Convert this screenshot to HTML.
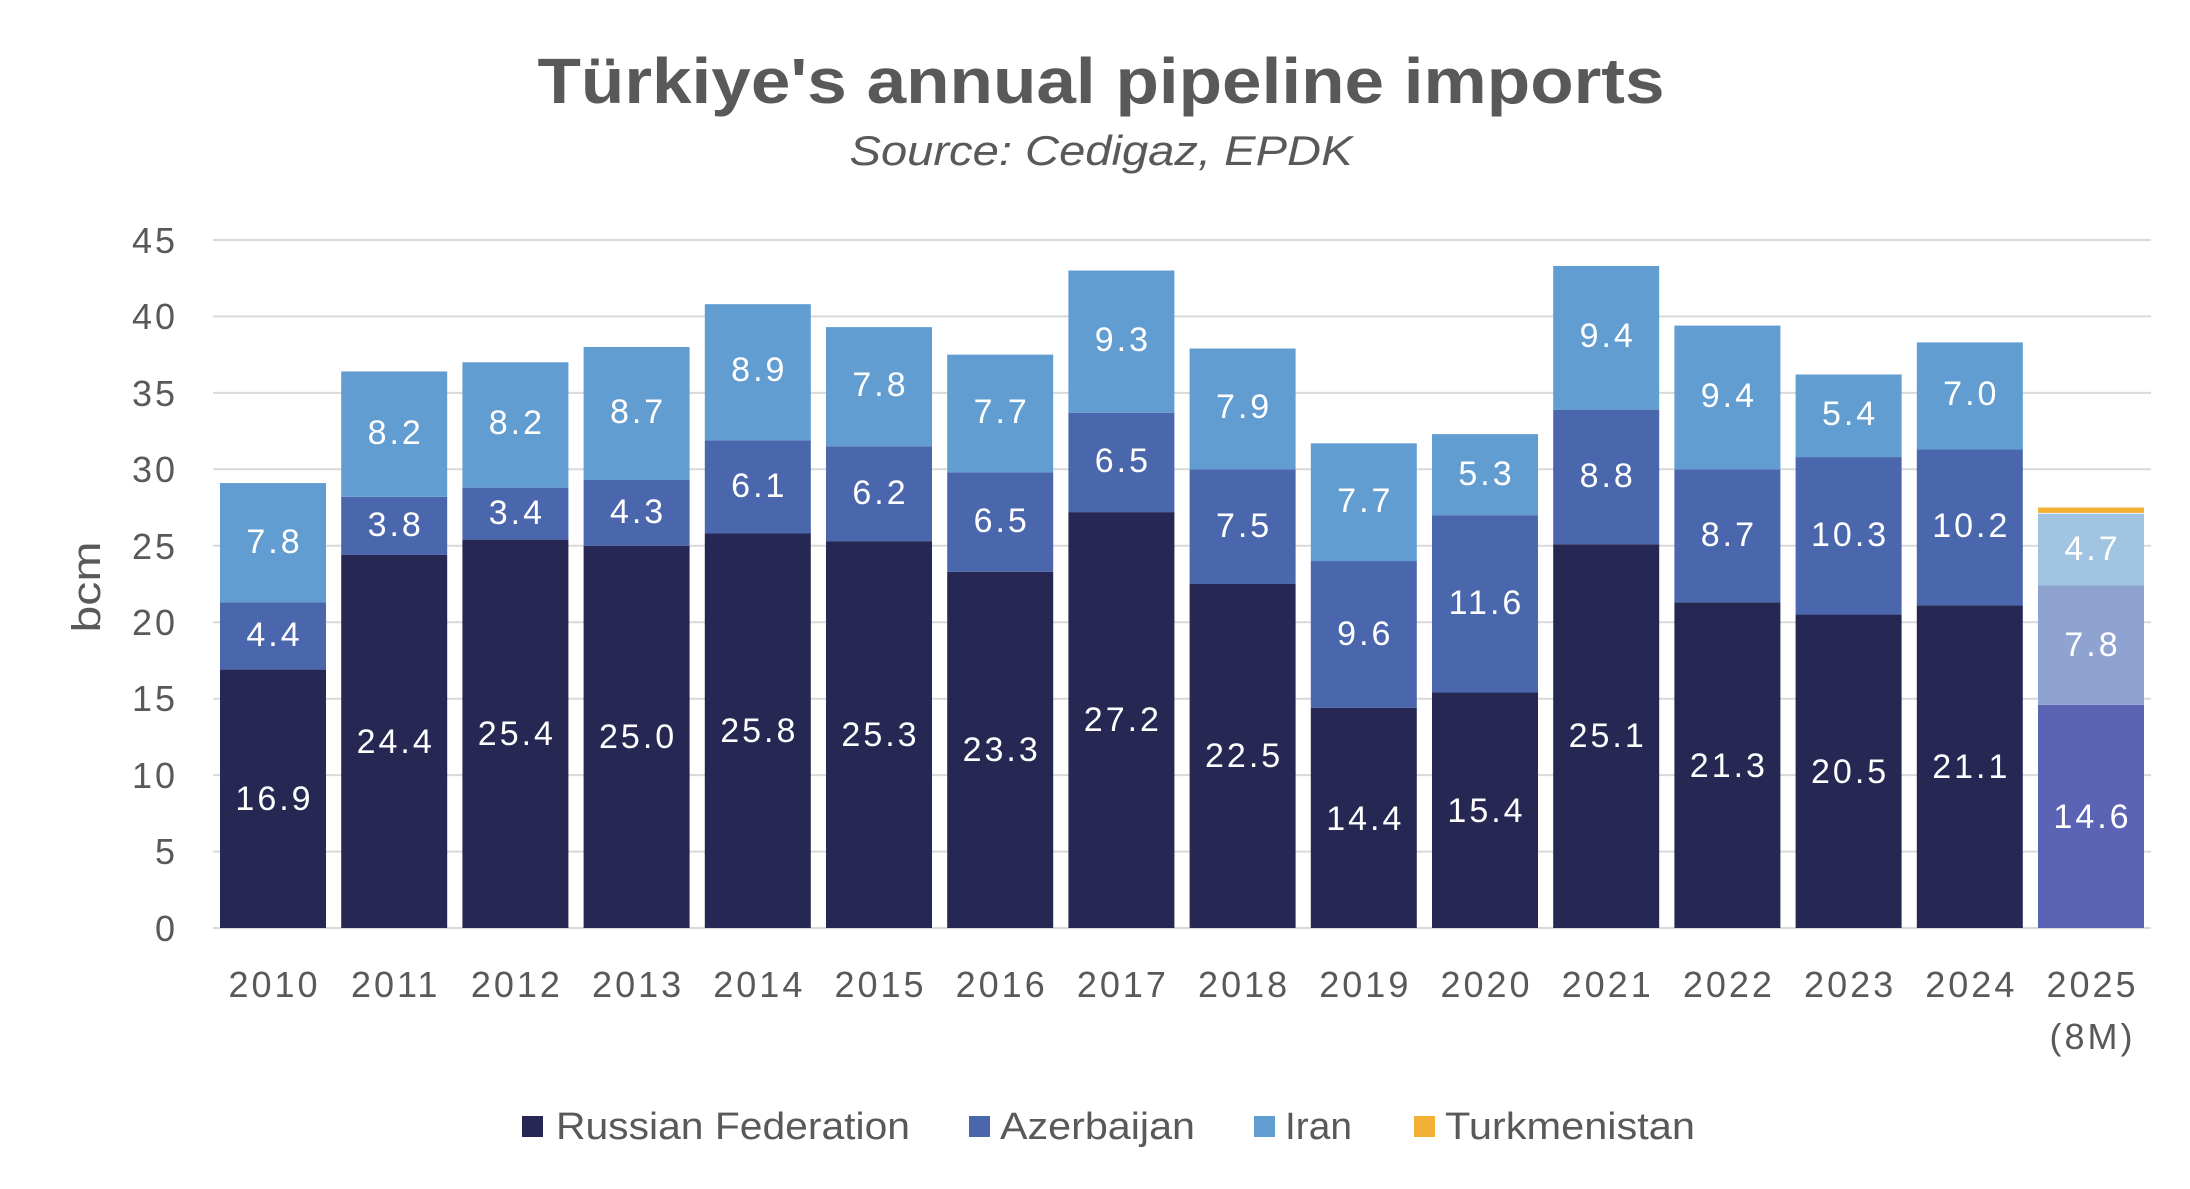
<!DOCTYPE html>
<html><head><meta charset="utf-8"><style>
html,body{margin:0;padding:0;background:#fff}
svg{display:block}
text{font-family:"Liberation Sans",sans-serif}
.t{fill:#595959}
.v{fill:#fff;font-size:34px;text-anchor:middle;letter-spacing:3px}
.ax{fill:#595959;font-size:36px;letter-spacing:3px}
.lg{fill:#595959;font-size:38px}
</style></head><body>
<svg width="2190" height="1189" viewBox="0 0 2190 1189" xmlns="http://www.w3.org/2000/svg">
<text x="1101" y="103" text-anchor="middle" font-size="64" font-weight="bold" class="t" textLength="1127" lengthAdjust="spacingAndGlyphs">Türkiye's annual pipeline imports</text>
<text x="1101" y="165" text-anchor="middle" font-size="42" font-style="italic" class="t" textLength="503" lengthAdjust="spacingAndGlyphs">Source: Cedigaz, EPDK</text>
<g stroke="#d9d9d9" stroke-width="2">
<line x1="213" x2="2151" y1="240" y2="240"/><line x1="213" x2="2151" y1="316.4" y2="316.4"/><line x1="213" x2="2151" y1="392.9" y2="392.9"/><line x1="213" x2="2151" y1="469.3" y2="469.3"/><line x1="213" x2="2151" y1="545.8" y2="545.8"/><line x1="213" x2="2151" y1="622.2" y2="622.2"/><line x1="213" x2="2151" y1="698.7" y2="698.7"/><line x1="213" x2="2151" y1="775.1" y2="775.1"/><line x1="213" x2="2151" y1="851.6" y2="851.6"/><line x1="213" x2="2151" y1="928" y2="928"/>
</g>
<g class="ax" text-anchor="end">
<text x="178" y="253">45</text><text x="178" y="329">40</text><text x="178" y="406">35</text><text x="178" y="482">30</text><text x="178" y="559">25</text><text x="178" y="635">20</text><text x="178" y="711">15</text><text x="178" y="788">10</text><text x="178" y="864">5</text><text x="178" y="941">0</text>
</g>
<text transform="translate(100,587) rotate(-90)" text-anchor="middle" class="t" font-size="40" textLength="91" lengthAdjust="spacingAndGlyphs">bcm</text>
<g transform="translate(0,928) scale(1,-15.29)">
<rect x="220" y="0" width="106" height="16.9" fill="#262752"/><rect x="220" y="16.9" width="106" height="4.4" fill="#4a66ac"/><rect x="220" y="21.3" width="106" height="7.8" fill="#629dd1"/>
<rect x="341.2" y="0" width="106" height="24.4" fill="#262752"/><rect x="341.2" y="24.4" width="106" height="3.8" fill="#4a66ac"/><rect x="341.2" y="28.2" width="106" height="8.2" fill="#629dd1"/>
<rect x="462.4" y="0" width="106" height="25.4" fill="#262752"/><rect x="462.4" y="25.4" width="106" height="3.4" fill="#4a66ac"/><rect x="462.4" y="28.8" width="106" height="8.2" fill="#629dd1"/>
<rect x="583.6" y="0" width="106" height="25.0" fill="#262752"/><rect x="583.6" y="25" width="106" height="4.3" fill="#4a66ac"/><rect x="583.6" y="29.3" width="106" height="8.7" fill="#629dd1"/>
<rect x="704.8" y="0" width="106" height="25.8" fill="#262752"/><rect x="704.8" y="25.8" width="106" height="6.1" fill="#4a66ac"/><rect x="704.8" y="31.9" width="106" height="8.9" fill="#629dd1"/>
<rect x="826" y="0" width="106" height="25.3" fill="#262752"/><rect x="826" y="25.3" width="106" height="6.2" fill="#4a66ac"/><rect x="826" y="31.5" width="106" height="7.8" fill="#629dd1"/>
<rect x="947.2" y="0" width="106" height="23.3" fill="#262752"/><rect x="947.2" y="23.3" width="106" height="6.5" fill="#4a66ac"/><rect x="947.2" y="29.8" width="106" height="7.7" fill="#629dd1"/>
<rect x="1068.4" y="0" width="106" height="27.2" fill="#262752"/><rect x="1068.4" y="27.2" width="106" height="6.5" fill="#4a66ac"/><rect x="1068.4" y="33.7" width="106" height="9.3" fill="#629dd1"/>
<rect x="1189.6" y="0" width="106" height="22.5" fill="#262752"/><rect x="1189.6" y="22.5" width="106" height="7.5" fill="#4a66ac"/><rect x="1189.6" y="30" width="106" height="7.9" fill="#629dd1"/>
<rect x="1310.8" y="0" width="106" height="14.4" fill="#262752"/><rect x="1310.8" y="14.4" width="106" height="9.6" fill="#4a66ac"/><rect x="1310.8" y="24" width="106" height="7.7" fill="#629dd1"/>
<rect x="1432" y="0" width="106" height="15.4" fill="#262752"/><rect x="1432" y="15.4" width="106" height="11.6" fill="#4a66ac"/><rect x="1432" y="27" width="106" height="5.3" fill="#629dd1"/>
<rect x="1553.2" y="0" width="106" height="25.1" fill="#262752"/><rect x="1553.2" y="25.1" width="106" height="8.8" fill="#4a66ac"/><rect x="1553.2" y="33.9" width="106" height="9.4" fill="#629dd1"/>
<rect x="1674.4" y="0" width="106" height="21.3" fill="#262752"/><rect x="1674.4" y="21.3" width="106" height="8.7" fill="#4a66ac"/><rect x="1674.4" y="30" width="106" height="9.4" fill="#629dd1"/>
<rect x="1795.6" y="0" width="106" height="20.5" fill="#262752"/><rect x="1795.6" y="20.5" width="106" height="10.3" fill="#4a66ac"/><rect x="1795.6" y="30.8" width="106" height="5.4" fill="#629dd1"/>
<rect x="1916.8" y="0" width="106" height="21.1" fill="#262752"/><rect x="1916.8" y="21.1" width="106" height="10.2" fill="#4a66ac"/><rect x="1916.8" y="31.3" width="106" height="7.0" fill="#629dd1"/>
<rect x="2038" y="0" width="106" height="14.6" fill="#5b63b5"/><rect x="2038" y="14.6" width="106" height="7.8" fill="#8fa3d0"/><rect x="2038" y="22.4" width="106" height="4.7" fill="#a0c4e2"/><rect x="2038" y="27.15" width="106" height="0.35" fill="#f2b035"/>
</g>
<g class="v" transform="translate(1.5,-3)">
<text x="273" y="813">16.9</text><text x="273" y="649">4.4</text><text x="273" y="556">7.8</text>
<text x="394.2" y="756">24.4</text><text x="394.2" y="539">3.8</text><text x="394.2" y="447">8.2</text>
<text x="515.4" y="748">25.4</text><text x="515.4" y="527">3.4</text><text x="515.4" y="437">8.2</text>
<text x="636.6" y="751">25.0</text><text x="636.6" y="526">4.3</text><text x="636.6" y="426">8.7</text>
<text x="757.8" y="745">25.8</text><text x="757.8" y="500">6.1</text><text x="757.8" y="384">8.9</text>
<text x="879" y="749">25.3</text><text x="879" y="507">6.2</text><text x="879" y="399">7.8</text>
<text x="1000.2" y="764">23.3</text><text x="1000.2" y="535">6.5</text><text x="1000.2" y="426">7.7</text>
<text x="1121.4" y="734">27.2</text><text x="1121.4" y="475">6.5</text><text x="1121.4" y="354">9.3</text>
<text x="1242.6" y="770">22.5</text><text x="1242.6" y="540">7.5</text><text x="1242.6" y="421">7.9</text>
<text x="1363.8" y="833">14.4</text><text x="1363.8" y="648">9.6</text><text x="1363.8" y="515">7.7</text>
<text x="1485" y="825">15.4</text><text x="1485" y="617">11.6</text><text x="1485" y="488">5.3</text>
<text x="1606.2" y="750">25.1</text><text x="1606.2" y="490">8.8</text><text x="1606.2" y="350">9.4</text>
<text x="1727.4" y="780">21.3</text><text x="1727.4" y="549">8.7</text><text x="1727.4" y="410">9.4</text>
<text x="1848.6" y="786">20.5</text><text x="1848.6" y="549">10.3</text><text x="1848.6" y="428">5.4</text>
<text x="1969.8" y="781">21.1</text><text x="1969.8" y="540">10.2</text><text x="1969.8" y="408">7.0</text>
<text x="2091" y="831">14.6</text><text x="2091" y="659">7.8</text><text x="2091" y="563">4.7</text>
</g>
<g class="ax" text-anchor="middle" transform="translate(1.5,0)">
<text x="273" y="997">2010</text><text x="394.2" y="997">2011</text><text x="515.4" y="997">2012</text><text x="636.6" y="997">2013</text><text x="757.8" y="997">2014</text><text x="879" y="997">2015</text><text x="1000.2" y="997">2016</text><text x="1121.4" y="997">2017</text><text x="1242.6" y="997">2018</text><text x="1363.8" y="997">2019</text><text x="1485" y="997">2020</text><text x="1606.2" y="997">2021</text><text x="1727.4" y="997">2022</text><text x="1848.6" y="997">2023</text><text x="1969.8" y="997">2024</text><text x="2091" y="997">2025</text><text x="2091" y="1049">(8M)</text>
</g>
<rect x="522" y="1116" width="21" height="21" fill="#262752"/>
<text x="556" y="1139" class="lg" textLength="354" lengthAdjust="spacingAndGlyphs">Russian Federation</text>
<rect x="969" y="1116" width="21" height="21" fill="#4a66ac"/>
<text x="1000" y="1139" class="lg" textLength="195" lengthAdjust="spacingAndGlyphs">Azerbaijan</text>
<rect x="1254" y="1116" width="21" height="21" fill="#629dd1"/>
<text x="1285" y="1139" class="lg" textLength="67" lengthAdjust="spacingAndGlyphs">Iran</text>
<rect x="1414" y="1116" width="21" height="21" fill="#f2b035"/>
<text x="1445" y="1139" class="lg" textLength="250" lengthAdjust="spacingAndGlyphs">Turkmenistan</text>
</svg>
</body></html>
